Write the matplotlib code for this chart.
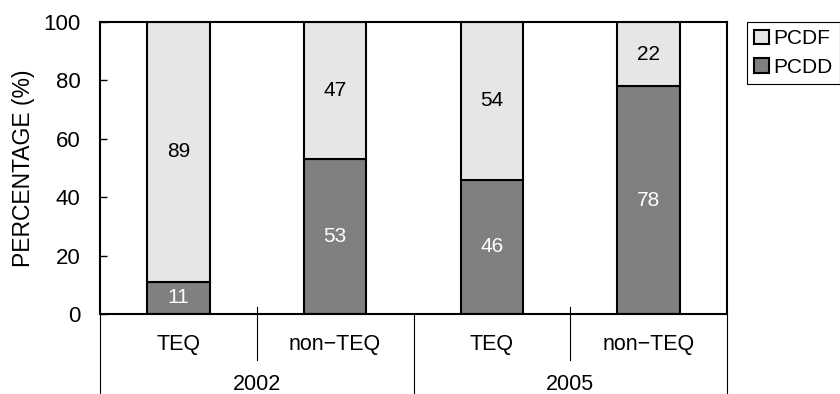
import matplotlib.pyplot as plt
import matplotlib.transforms as mtransforms

plt.rcParams['font.family'] = ['Liberation Sans', 'DejaVu Sans']

# stacked percentages per bar
years = ['2002', '2005']
kinds = ['TEQ', 'non\u2212TEQ']
pcdd = [11, 53, 46, 78]
pcdf = [89, 47, 54, 22]
yticks = [0, 20, 40, 60, 80, 100]

light = '#e6e6e6'
dark = '#808080'

fig = plt.figure(figsize=(8.4, 3.94), dpi=100)
ax = fig.add_axes([100/840, 80/394, 627/840, 292/394])

x = list(range(len(pcdd)))
b1 = ax.bar(x, pcdd, width=0.4, color=dark, edgecolor='black', linewidth=1.5, label='PCDD')
b2 = ax.bar(x, pcdf, width=0.4, bottom=pcdd, color=light, edgecolor='black', linewidth=1.5, label='PCDF')

# values inside the segments
for xi, d, f in zip(x, pcdd, pcdf):
    ax.text(xi, d/2, str(d), ha='center', va='center', color='white', fontsize=15)
    ax.text(xi, d + f/2, str(f), ha='center', va='center', color='black', fontsize=15)

ax.set_xlim(-0.5, 3.5)
ax.set_ylim(0, 100)
ax.set_yticks(yticks)
ax.tick_params(axis='y', direction='in', length=5, width=1, labelsize=16, pad=14)
ax.set_xticks([])
ax.set_ylabel('PERCENTAGE (%)', fontsize=16.5, labelpad=6)
for s in ax.spines.values():
    s.set_linewidth(1.5)

# two-level category axis
trans = mtransforms.blended_transform_factory(ax.transData, ax.transAxes)
for sx in [0.5, 2.5]:
    ax.plot([sx, sx], [0.024, -0.158], color='black', lw=0.8, transform=trans, clip_on=False)
for sx in [-0.5, 1.5, 3.5]:
    ax.plot([sx, sx], [0.0, -0.3], color='black', lw=0.8, transform=trans, clip_on=False)
for i in x:
    ax.text(i, -0.106, kinds[i % 2], ha='center', va='center', fontsize=15.5, transform=trans)
for j, yr in enumerate(years):
    ax.text(2*j + 0.5, -0.243, yr, ha='center', va='center', fontsize=15.5, transform=trans)

leg = fig.legend([b2, b1], ['PCDF', 'PCDD'], loc='upper left',
                 bbox_to_anchor=(747/840, 1 - 22/394), fontsize=15,
                 handlelength=0.7, handleheight=0.7, handletextpad=0.2,
                 borderpad=0.35, labelspacing=0.45, fancybox=False, framealpha=1,
                 borderaxespad=0)
leg.get_frame().set_edgecolor('black')
leg.get_frame().set_linewidth(0.8)

fig.savefig('out.png', dpi=100)
